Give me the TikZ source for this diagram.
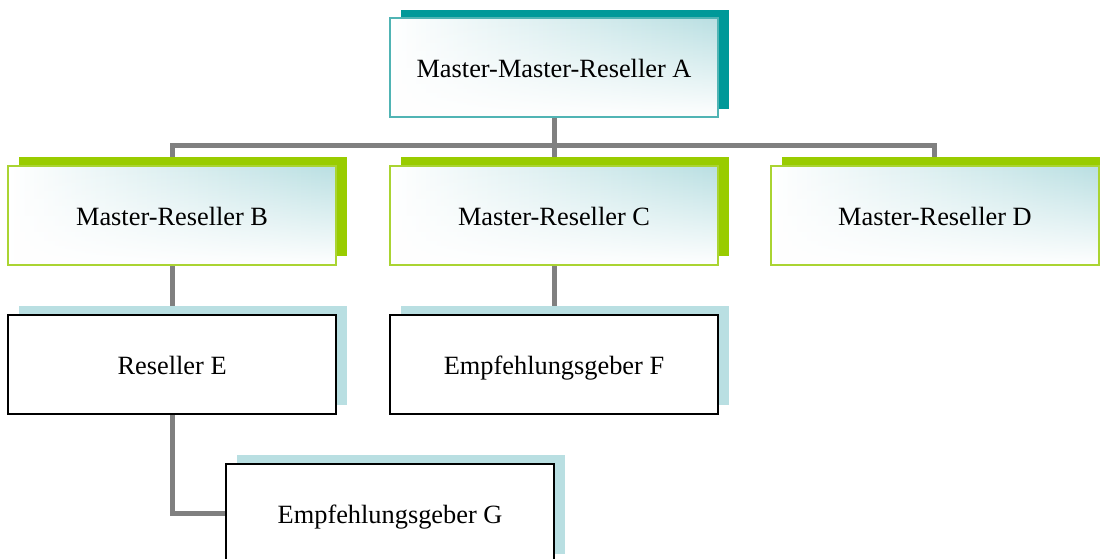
\documentclass[tikz,border=0pt]{standalone}
\usepackage{fontspec}
\setmainfont{Liberation Serif}
\usetikzlibrary{positioning, shadows, fadings, backgrounds}

\definecolor{tealdark}{RGB}{0,153,153}
\definecolor{tealline}{RGB}{80,180,180}
\definecolor{greendark}{RGB}{153,204,0}
\definecolor{greenline}{RGB}{170,212,50}
\definecolor{palecyan}{RGB}{185,223,226}
\definecolor{linkgray}{RGB}{128,128,128}

\tikzfading[name=fadeup, top color=transparent!100, middle color=transparent!80, bottom color=transparent!0]

\tikzset{
	box/.style={rectangle, minimum width=6.56cm, minimum height=1.98cm, text height=1.2em, text depth=0.04em, font=\fontsize{15}{18}\selectfont},
	softfill/.style={path picture={
		\shade[left color=white, right color=palecyan] (path picture bounding box.south west) rectangle (path picture bounding box.north east);
		\fill[white, path fading=fadeup] (path picture bounding box.south west) rectangle (path picture bounding box.north east);
	}},
	topbox/.style={box, softfill, draw=tealline, line width=1.1pt, general shadow={shadow xshift=0.21cm, shadow yshift=0.17cm, fill=tealdark}},
	midbox/.style={box, softfill, draw=greenline, line width=1.1pt, general shadow={shadow xshift=0.22cm, shadow yshift=0.17cm, fill=greendark}},
	lowbox/.style={box, fill=white, draw=black, line width=1.1pt, general shadow={shadow xshift=0.22cm, shadow yshift=0.17cm, fill=palecyan}},
	link/.style={draw=linkgray, line width=0.1cm}
}

\begin{document}
\begin{tikzpicture}
	\useasboundingbox (0,0) rectangle (22,-11.16);
	\clip (0,0) rectangle (22,-11.16);
	\node[topbox] (A) at (11.08,-1.35) {Master-Master-Reseller A};
	\node[midbox] (C) [below=0.94cm of A] {Master-Reseller C};
	\node[midbox] (B) [left=1.04cm of C] {Master-Reseller B};
	\node[midbox] (D) [right=1.02cm of C] {Master-Reseller D};
	\node[lowbox] (E) [below=0.96cm of B] {Reseller E};
	\node[lowbox] (F) [below=0.96cm of C] {Empfehlungsgeber F};
	\node[lowbox] (G) [below=0.96cm of E, xshift=4.36cm] {Empfehlungsgeber G};
	\begin{scope}[on background layer]
		\draw[link] (A.south) -- ++(0,-0.56) coordinate (bus) -| (B.north);
		\draw[link] (bus) -| (D.north);
		\draw[link] (A.south) -- (C.north);
		\draw[link] (B.south) -- (E.north);
		\draw[link] (C.south) -- (F.north);
		\draw[link] (E.south) |- (G.west);
	\end{scope}
\end{tikzpicture}
\end{document}
